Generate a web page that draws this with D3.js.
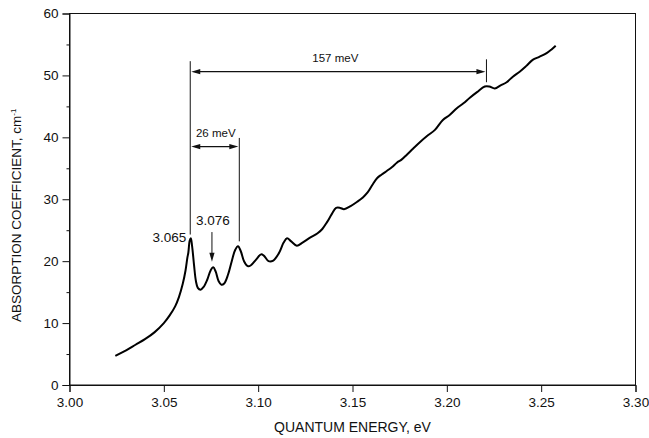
<!DOCTYPE html>
<html>
<head>
<meta charset="utf-8">
<script src="https://cdn.jsdelivr.net/npm/d3@7/dist/d3.min.js"></script>
<style>
  html, body { margin: 0; padding: 0; background: #fff; }
  svg { display: block; font-family: "Liberation Sans", Arial, Helvetica, sans-serif; }
</style>
</head>
<body>
<svg id="chart" width="649" height="438"></svg>
<script>
// Absorption spectrum: quantum energy (eV) vs absorption coefficient (cm^-1)
const energy = [
  3.0243, 3.030, 3.035, 3.040, 3.045, 3.050, 3.053, 3.056, 3.058, 3.060,
  3.0615, 3.0625, 3.063, 3.0637, 3.0643, 3.065, 3.066, 3.067, 3.068, 3.0695,
  3.071, 3.073, 3.0748, 3.0762, 3.0775, 3.079, 3.0805, 3.082, 3.084, 3.086,
  3.0878, 3.0893, 3.0908, 3.0925, 3.0945, 3.096, 3.099, 3.1015, 3.103, 3.1055,
  3.108, 3.111, 3.1135, 3.1153, 3.1175, 3.1205, 3.1235, 3.1275, 3.1315, 3.134,
  3.1365, 3.139, 3.1413, 3.1435, 3.1455, 3.149, 3.1525, 3.1555, 3.158, 3.1605,
  3.163, 3.1655, 3.1683, 3.171, 3.1735, 3.176, 3.1788, 3.1822, 3.1857, 3.1895,
  3.1937, 3.1979, 3.2015, 3.2053, 3.2088, 3.2122, 3.216, 3.2201, 3.2225, 3.2254,
  3.2285, 3.2317, 3.235, 3.2386, 3.242, 3.2455, 3.249, 3.2529, 3.2555, 3.2577
];
const absorption = [
  4.7, 5.6, 6.5, 7.4, 8.5, 10.0, 11.2, 12.7, 14.2, 16.3,
  18.5, 20.6, 21.4, 23.3, 23.7, 22.4, 19.4, 16.8, 15.7, 15.4,
  15.8, 17.0, 18.5, 19.0, 18.3, 16.8, 16.2, 16.4, 17.8, 20.0,
  21.8, 22.4, 21.6, 20.0, 19.2, 19.3, 20.3, 21.1, 20.9, 20.0,
  20.1, 21.3, 23.0, 23.7, 23.2, 22.5, 23.0, 23.8, 24.5, 25.2,
  26.3, 27.6, 28.6, 28.6, 28.4, 28.9, 29.6, 30.3, 31.1, 32.3,
  33.4, 34.0, 34.6, 35.2, 35.9, 36.4, 37.2, 38.2, 39.2, 40.2,
  41.2, 42.8, 43.6, 44.7, 45.5, 46.4, 47.3, 48.2, 48.2, 47.9,
  48.4, 48.9, 49.8, 50.6, 51.5, 52.5, 53.0, 53.6, 54.2, 54.8
];

const xTicks = [3.00, 3.05, 3.10, 3.15, 3.20, 3.25, 3.30];
const yTicks = [0, 10, 20, 30, 40, 50, 60];
const yMinorTicks = [5, 15, 25, 35, 45, 55];

// Peak energies and the spacings marked between them
const peakLabels = ["3.065", "3.076"];
const firstPeak = 3.064;
const spacingLabels = ["157 meV", "26 meV"];
const spacingEnds = [3.221, 3.090];

const svg = d3.select("#chart");
const margin = { left: 69.5, right: 13.5, top: 13.5, bottom: 53 };
const W = 649, H = 438;
const x = d3.scaleLinear().domain([3.00, 3.30]).range([margin.left, W - margin.right]);
const y = d3.scaleLinear().domain([0, 60]).range([H - margin.bottom, margin.top]);

const ink = "#111";

// Frame
svg.append("rect")
  .attr("x", x(3.00)).attr("y", y(60))
  .attr("width", x(3.30) - x(3.00)).attr("height", y(0) - y(60))
  .attr("fill", "none").attr("stroke", ink).attr("stroke-width", 1);

// Axes
const xAxis = svg.append("g")
  .attr("transform", `translate(0,${y(0)})`)
  .call(d3.axisBottom(x).tickValues(xTicks).tickFormat(d3.format(".2f")).tickSize(7).tickPadding(5));
const yAxis = svg.append("g")
  .attr("transform", `translate(${x(3.00)},0)`)
  .call(d3.axisLeft(y).tickValues(yTicks).tickFormat(d3.format("d")).tickSize(7).tickPadding(4));
svg.append("g")
  .attr("transform", `translate(${x(3.00)},0)`)
  .call(d3.axisLeft(y).tickValues(yMinorTicks).tickFormat("").tickSize(3))
  .call(g => g.select(".domain").remove());

svg.selectAll(".domain").attr("stroke", ink);
svg.selectAll(".tick line").attr("stroke", ink);
[xAxis, yAxis].forEach(g => g.selectAll("text")
  .attr("font-size", 13.5).attr("fill", ink)
  .attr("font-family", "'Liberation Sans', Arial, sans-serif"));

// Axis titles
svg.append("text")
  .attr("x", (x(3.00) + x(3.30)) / 2).attr("y", 432)
  .attr("text-anchor", "middle").attr("font-size", 14).attr("fill", ink)
  .text("QUANTUM ENERGY, eV");

const yTitle = svg.append("text")
  .attr("transform", `translate(21,${(y(0) + y(60)) / 2 + 16}) rotate(-90)`)
  .attr("text-anchor", "middle").attr("font-size", 13.5).attr("fill", ink);
yTitle.append("tspan").text("ABSORPTION COEFFICIENT, cm");
yTitle.append("tspan").attr("dy", -5).attr("font-size", 8).text("-1");

// Spectrum
const pts = energy.map((e, i) => [e, absorption[i]]);
svg.append("path")
  .datum(pts)
  .attr("fill", "none").attr("stroke", "#000").attr("stroke-width", 2)
  .attr("stroke-linejoin", "round")
  .attr("d", d3.line().x(d => x(d[0])).y(d => y(d[1])).curve(d3.curveCatmullRom.alpha(0.5)));

// Annotation helpers
function vline(e, a0, a1) {
  svg.append("line")
    .attr("x1", x(e)).attr("x2", x(e)).attr("y1", y(a0)).attr("y2", y(a1))
    .attr("stroke", ink).attr("stroke-width", 1);
}
function arrowHead(px, py, dir) {
  // dir: unit vector [dx, dy] pointing toward the tip
  const L = 9, w = 2.6;
  const bx = px - dir[0] * L, by = py - dir[1] * L;
  const nx = -dir[1], ny = dir[0];
  svg.append("path")
    .attr("d", `M${px},${py}L${bx + nx * w},${by + ny * w}L${bx - nx * w},${by - ny * w}Z`)
    .attr("fill", ink);
}
function doubleArrow(e0, e1, a) {
  const x0 = x(e0) + 1, x1 = x(e1) - 1, yy = y(a);
  svg.append("line").attr("x1", x0 + 4).attr("x2", x1 - 4).attr("y1", yy).attr("y2", yy)
    .attr("stroke", ink).attr("stroke-width", 1.2);
  arrowHead(x0, yy, [-1, 0]);
  arrowHead(x1, yy, [1, 0]);
}

// 157 meV spacing
vline(firstPeak, 52.3, 24.3);
vline(spacingEnds[0], 52.6, 48.9);
doubleArrow(firstPeak, spacingEnds[0], 50.6);
svg.append("text")
  .attr("x", (x(firstPeak) + x(spacingEnds[0])) / 2 - 3).attr("y", y(52.1))
  .attr("text-anchor", "middle").attr("font-size", 11.5).attr("fill", ink)
  .text(spacingLabels[0]);

// 26 meV spacing
vline(spacingEnds[1], 39.9, 23.2);
doubleArrow(firstPeak, spacingEnds[1], 38.5);
svg.append("text")
  .attr("x", (x(firstPeak) + x(spacingEnds[1])) / 2 + 1).attr("y", y(40.0))
  .attr("text-anchor", "middle").attr("font-size", 11.5).attr("fill", ink)
  .text(spacingLabels[1]);

// Peak labels
svg.append("text")
  .attr("x", x(firstPeak) - 4).attr("y", y(23.1))
  .attr("text-anchor", "end").attr("font-size", 13.5).attr("fill", ink)
  .text(peakLabels[0]);
const p2 = 3.0755;
svg.append("text")
  .attr("x", x(p2) + 1).attr("y", y(25.9))
  .attr("text-anchor", "middle").attr("font-size", 13.5).attr("fill", ink)
  .text(peakLabels[1]);
svg.append("line")
  .attr("x1", x(p2)).attr("x2", x(p2)).attr("y1", y(24.7)).attr("y2", y(20.8))
  .attr("stroke", ink).attr("stroke-width", 1);
arrowHead(x(p2), y(19.9), [0, 1]);
</script>
</body>
</html>
